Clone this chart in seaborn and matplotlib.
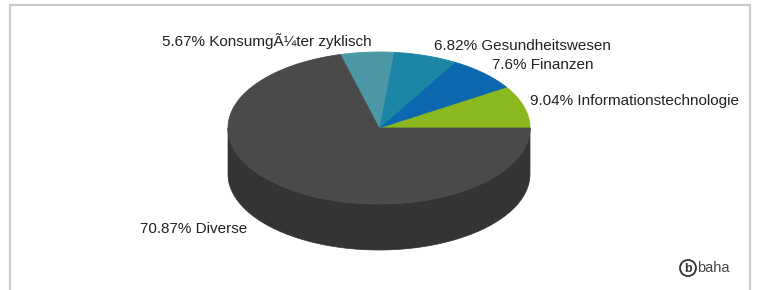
import numpy as np
import matplotlib
matplotlib.use("Agg")
import matplotlib.pyplot as plt
import seaborn as sns

# sector data (counter-clockwise from 3 o'clock)
sectors = ["Informationstechnologie", "Finanzen", "Gesundheitswesen",
           "Konsumg\u00c3\u00bcter zyklisch", "Diverse"]
shares = [9.04, 7.6, 6.82, 5.67, 70.87]
colors = ["#8ab81e", "#0a67b0", "#1c86a6", "#4b97a6", "#4a4a4a"]
side_color = "#343434"

# label placement in pixels (left x, centre y)
label_pos = [(530, 101), (492, 65), (434, 46), (162, 41), (140, 229)]

sns.set_theme(style="white")
plt.rcParams["font.family"] = ["Liberation Sans", "DejaVu Sans"]

fig = plt.figure(figsize=(7.57, 2.90), dpi=100)
ax = fig.add_axes([0, 0, 1, 1])
ax.set_xlim(0, 757)
ax.set_ylim(290, 0)
ax.axis("off")

cx, cy, rx, ry, depth = 379, 128, 151, 76, 46

# frame
ax.plot([9.5, 9.5, 750, 750], [292, 4.5, 4.5, 292], color="#cbcbcb", lw=1.6,
        solid_capstyle="butt", solid_joinstyle="miter")

# side of the cylinder (front half)
t = np.radians(np.linspace(180, 360, 200))
xs = cx + rx * np.cos(t)
ys = cy - ry * np.sin(t)
ax.fill(np.concatenate([xs, xs[::-1]]),
        np.concatenate([ys, ys[::-1] + depth]),
        color=side_color, lw=0.5, ec=side_color)

# top wedges
start = 0.0
for val, col in zip(shares, colors):
    end = start + val / sum(shares) * 360
    a = np.radians(np.linspace(start, end, 200))
    wx = np.concatenate([[cx], cx + rx * np.cos(a)])
    wy = np.concatenate([[cy], cy - ry * np.sin(a)])
    ax.fill(wx, wy, color=col, lw=0.6, ec=col)
    start = end

# labels
for name, val, (lx, ly) in zip(sectors, shares, label_pos):
    ax.text(lx, ly, f"{val:g}% {name}", fontsize=10.95, color="#222222",
            ha="left", va="center")

# logo
ax.add_patch(plt.Circle((688, 268), 8, fill=False, ec="#333333", lw=1.3))
ax.text(688, 268.5, "b", fontsize=9, fontweight="bold", color="#333333",
        ha="center", va="center")
ax.text(697.5, 268, "baha", fontsize=10.5, color="#444444", ha="left", va="center")

fig.savefig("out.png", dpi=100)
